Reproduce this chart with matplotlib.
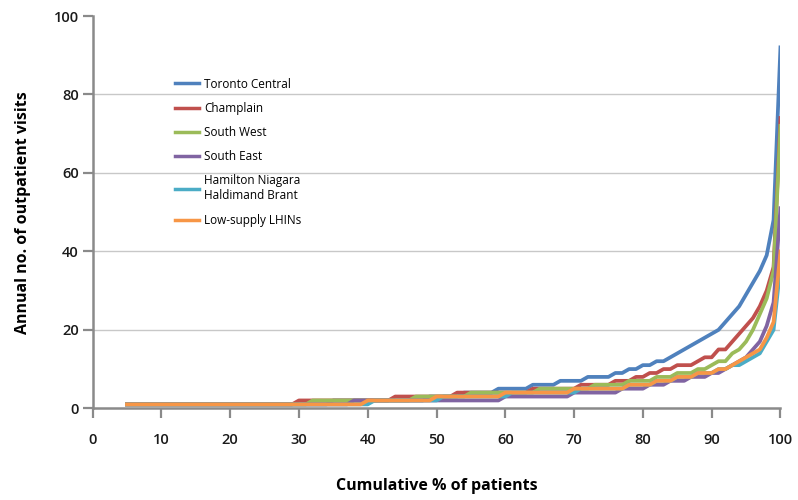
import numpy as np
import matplotlib
matplotlib.use("Agg")
import matplotlib.pyplot as plt

plt.rcParams['font.family'] = ['Open Sans', 'DejaVu Sans']

# Cumulative % of patients (percentiles 5..100)
pct = list(range(5, 101))

# Annual no. of outpatient visits per percentile
toronto = ([1] * 30 + [2] * 14 + [3] * 5 + [4] * 5 + [5] * 5 + [6] * 4 + [7] * 4 + [8] * 4
           + [9, 9, 10, 10, 11, 11, 12, 12, 13, 14, 15, 16, 17, 18, 19, 20, 22, 24, 26, 29,
              32, 35, 39, 48, 92])
champlain = ([1] * 25 + [2] * 14 + [3] * 9 + [4] * 11 + [5] * 7 + [6] * 5 + [7] * 3
             + [8, 8, 9, 9, 10, 10, 11, 11, 11, 12, 13, 13, 15, 15, 17, 19, 21, 23, 26, 30,
                36, 74])
south_west = ([1] * 27 + [2] * 15 + [3] * 8 + [4] * 10 + [5] * 8 + [6] * 5
              + [7, 7, 7, 7, 8, 8, 8, 9, 9, 9, 10, 10, 11, 12, 12, 14, 15, 17, 20, 24, 28,
                 35, 72])
south_east = ([1] * 33 + [2] * 22 + [3] * 10 + [4] * 7
              + [5, 5, 5, 5, 6, 6, 6, 7, 7, 7, 8, 8, 8, 9, 9, 10, 11, 12, 13, 15, 17, 21,
                 27, 51])
hamilton = ([1] * 36 + [2] * 10 + [3] * 10 + [4] * 10 + [5] * 7
            + [6, 6, 6, 6, 7, 7, 7, 8, 8, 8, 9, 9, 9, 10, 10, 11, 11, 12, 13, 14, 17, 20,
               36])
low_supply = ([1] * 35 + [2] * 10 + [3] * 10 + [4] * 10 + [5] * 8
              + [6, 6, 6, 6, 7, 7, 7, 8, 8, 8, 9, 9, 9, 10, 10, 11, 12, 13, 14, 15, 18, 22,
                 40])

series = [
    ("Toronto Central", toronto, "#4F81BD"),
    ("Champlain", champlain, "#C0504D"),
    ("South West", south_west, "#9BBB59"),
    ("South East", south_east, "#8064A2"),
    ("Hamilton Niagara\nHaldimand Brant", hamilton, "#4BACC6"),
    ("Low-supply LHINs", low_supply, "#F79646"),
]

fig = plt.figure(figsize=(7.98, 5.0), dpi=100)
ax = fig.add_axes([0.116, 0.1834, 0.862, 0.7846])

for y in [20, 40, 60, 80]:
    ax.axhline(y, color="#c8c8c8", lw=1.0, zorder=0)

for name, vals, col in series:
    ax.plot(pct, vals, color=col, lw=2.7, label=name, solid_joinstyle="round")

ax.set_xlim(0, 100)
ax.set_ylim(0, 100)
ax.set_xticks(range(0, 101, 10))
ax.set_yticks(range(0, 101, 20))

for s in ["top", "right"]:
    ax.spines[s].set_visible(False)
for s in ["left", "bottom"]:
    ax.spines[s].set_color("#8a8a8a")
    ax.spines[s].set_linewidth(1.8)

ax.tick_params(axis="both", direction="out", length=7, width=1.6, color="#8a8a8a",
               labelsize=10.5, labelcolor="#1a1a1a")
ax.tick_params(axis="x", pad=11)
ax.tick_params(axis="y", pad=3)
for lab in ax.get_xticklabels() + ax.get_yticklabels():
    lab.set_fontweight("semibold")

ax.set_xlabel("Cumulative % of patients", fontsize=11.5, fontweight="bold", labelpad=22)
ax.set_ylabel("Annual no. of outpatient visits", fontsize=11.5, fontweight="bold", labelpad=16)

leg = ax.legend(loc="upper left", bbox_to_anchor=(0.113, 0.855), frameon=False,
                fontsize=8.5, handlelength=2.0, handletextpad=0.45, labelspacing=0.95,
                borderaxespad=0)
for h in leg.legend_handles:
    h.set_linewidth(2.5)

fig.savefig("out.png", dpi=100)
